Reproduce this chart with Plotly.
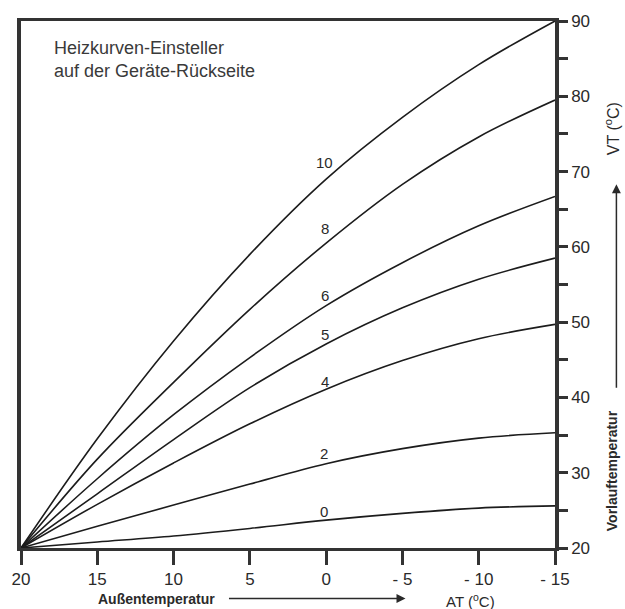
import plotly.graph_objects as go

# Außentemperatur (AT, °C)
at = [20, 15, 10, 5, 0, -5, -10, -15]

# Vorlauftemperatur (VT, °C) per Heizkurve
curve_names = ["10", "8", "6", "5", "4", "2", "0"]
vt_10 = [20, 34.5, 47.5, 59.0, 69.0, 77.2, 84.2, 90.0]
vt_8 = [20, 31.8, 42.0, 51.7, 60.5, 68.3, 74.6, 79.5]
vt_6 = [20, 29.2, 37.7, 45.3, 52.2, 57.9, 62.8, 66.7]
vt_5 = [20, 27.2, 34.4, 41.3, 47.1, 51.9, 55.7, 58.5]
vt_4 = [20, 25.8, 31.3, 36.5, 41.1, 44.9, 47.8, 49.7]
vt_2 = [20, 22.9, 25.7, 28.5, 31.2, 33.2, 34.6, 35.3]
vt_0 = [20, 20.8, 21.6, 22.6, 23.7, 24.6, 25.3, 25.6]
series = [vt_10, vt_8, vt_6, vt_5, vt_4, vt_2, vt_0]

# curve label positions (AT, VT)
label_at = [0.1, 0.1, 0.05, 0.05, 0.1, 0.15, 0.15]
label_vt = [71.2, 62.4, 53.5, 48.4, 42.1, 32.5, 24.9]

x_ticks = [20, 15, 10, 5, 0, -5, -10, -15]
x_ticktext = ["20", "15", "10", "5", "0", "- 5", "- 10", "- 15"]
y_ticks = [20, 30, 40, 50, 60, 70, 80, 90]
y_ticktext = ["20", "30", "40", "50", "60", "70", "80", "90"]

ink = "#2a2a2a"
font_family = "Liberation Sans, Arial, Helvetica, sans-serif"

fig = go.Figure()
for name, vals in zip(curve_names, series):
    fig.add_trace(go.Scatter(x=at, y=vals, mode="lines", name=name,
                             line=dict(color="#1c1c1c", width=1.6, shape="spline", smoothing=1.0),
                             showlegend=False, hoverinfo="skip"))

for name, lx, ly in zip(curve_names, label_at, label_vt):
    fig.add_annotation(x=lx, y=ly, text=name, showarrow=False, xanchor="center",
                       font=dict(size=15, color=ink, family=font_family))

fig.update_layout(
    width=625, height=609,
    margin=dict(l=19, r=70, t=15, b=61),
    paper_bgcolor="white", plot_bgcolor="white",
    font=dict(family=font_family, color=ink, size=15),
    xaxis=dict(range=[20, -15], showgrid=False, zeroline=False,
               showline=True, linewidth=3, linecolor="#333", mirror=True,
               ticks="outside", ticklen=14, tickwidth=2.5, tickcolor="#333",
               tickvals=x_ticks, ticktext=x_ticktext,
               tickfont=dict(size=17, color=ink)),
    yaxis=dict(range=[20, 90], side="right", showgrid=False, zeroline=False,
               showline=True, linewidth=3.5, linecolor="#333", mirror=True,
               ticks="outside", ticklen=9, tickwidth=2.5, tickcolor="#333",
               tickvals=y_ticks, ticktext=y_ticktext,
               tickfont=dict(size=17, color=ink),
               minor=dict(dtick=5, tick0=20, ticks="outside", ticklen=9,
                          tickwidth=2.5, tickcolor="#333", showgrid=False)),
)

# info text top-left
fig.add_annotation(xref="paper", yref="paper", x=0.058, y=0.926, xanchor="left", yanchor="middle",
                   text="Heizkurven-Einsteller<br>auf der Geräte-Rückseite", align="left",
                   showarrow=False, font=dict(size=18, color="#3a3a3a", family=font_family))

# bottom axis title with arrow
fig.add_annotation(xref="paper", yref="paper", x=0.254, y=-0.096, xanchor="center", yanchor="middle",
                   text="<b>Außentemperatur</b>", showarrow=False,
                   font=dict(size=14, color=ink, family=font_family))
fig.add_annotation(xref="paper", yref="paper", x=0.72, y=-0.096, ax=-178, ay=0,
                   text="", showarrow=True, arrowhead=2, arrowsize=1.2, arrowwidth=1.5,
                   arrowcolor=ink)
fig.add_annotation(xref="paper", yref="paper", x=0.842, y=-0.1, xanchor="center", yanchor="middle",
                   text="AT (<sup>o</sup>C)", showarrow=False,
                   font=dict(size=15, color=ink, family=font_family))

# right axis title with arrow
fig.add_annotation(xref="paper", yref="paper", x=1.107, y=0.146, xanchor="center", yanchor="middle",
                   text="<b>Vorlauftemperatur</b>", textangle=-90, showarrow=False,
                   font=dict(size=14, color=ink, family=font_family))
fig.add_annotation(xref="paper", yref="paper", x=1.115, y=0.69, ax=0, ay=205,
                   text="", showarrow=True, arrowhead=2, arrowsize=1.2, arrowwidth=1.5,
                   arrowcolor=ink)
fig.add_annotation(xref="paper", yref="paper", x=1.107, y=0.795, xanchor="center", yanchor="middle",
                   text="VT (<sup>o</sup>C)", textangle=-90, showarrow=False,
                   font=dict(size=16, color=ink, family=font_family))

fig.write_html("out.html", config={"displayModeBar": False},
               post_script="document.body.style.margin='0';document.body.style.padding='0';"
                           "document.documentElement.style.overflow='hidden';")
